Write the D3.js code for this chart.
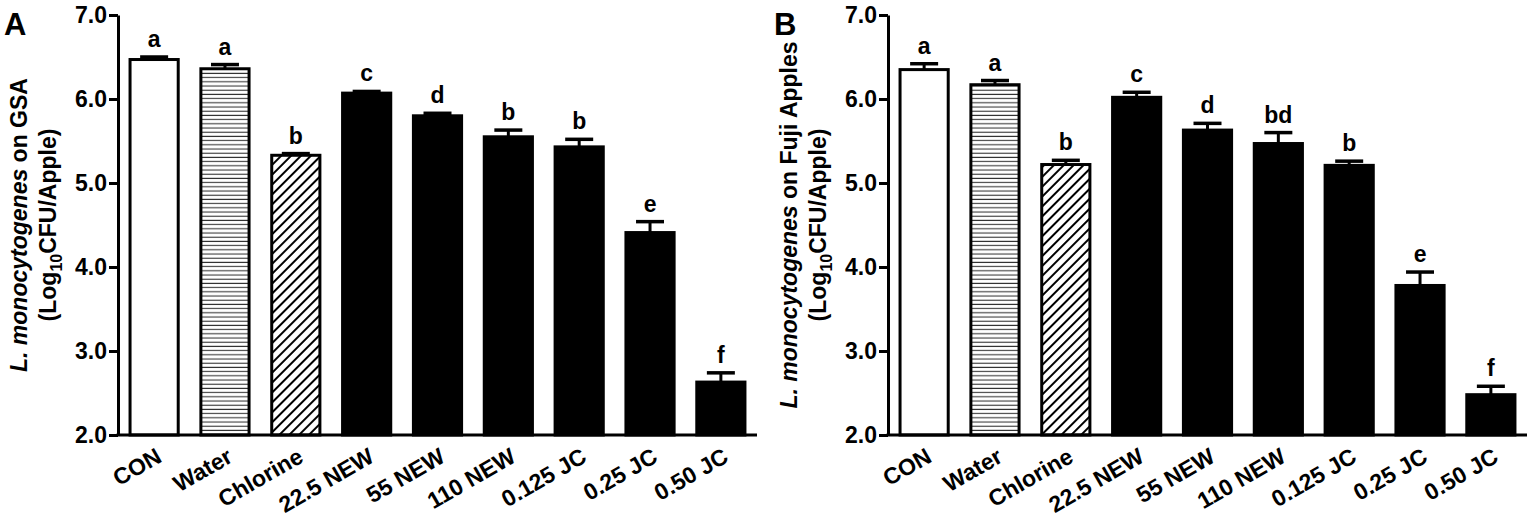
<!DOCTYPE html>
<html>
<head>
<meta charset="utf-8">
<script src="https://cdn.jsdelivr.net/npm/d3@7"></script>
<style>
  body { margin: 0; background: #fff; }
  text { font-family: "Liberation Sans", Arial, sans-serif; font-weight: bold; fill: #000; }
</style>
</head>
<body>
<div id="chart"></div>
<script>
const categories = ['CON', 'Water', 'Chlorine', '22.5 NEW', '55 NEW', '110 NEW', '0.125 JC', '0.25 JC', '0.50 JC']

const gsaMeans = [6.47, 6.36, 5.33, 6.07, 5.80, 5.55, 5.43, 4.41, 2.63]
const gsaErrors = [0.03, 0.05, 0.02, 0.02, 0.03, 0.08, 0.09, 0.13, 0.11]
const gsaLetters = ['a', 'a', 'b', 'c', 'd', 'b', 'b', 'e', 'f']

const fujiMeans = [6.35, 6.17, 5.22, 6.02, 5.63, 5.47, 5.21, 3.78, 2.48]
const fujiErrors = [0.07, 0.05, 0.05, 0.06, 0.08, 0.13, 0.05, 0.16, 0.10]
const fujiLetters = ['a', 'a', 'b', 'c', 'd', 'bd', 'b', 'e', 'f']

const yTicks = [2, 3, 4, 5, 6, 7]

let width = 1534
let height = 517

let svg = d3.select('#chart')
  .append('svg')
    .attr('width', width)
    .attr('height', height)

// fill patterns for water and chlorine bars
let defs = svg.append('defs')

defs.append('pattern')
    .attr('id', 'hlines')
    .attr('patternUnits', 'userSpaceOnUse')
    .attr('width', 10)
    .attr('height', 4.2)
  .append('line')
    .attr('x1', 0).attr('x2', 10)
    .attr('y1', 2).attr('y2', 2)
    .attr('stroke', '#333')
    .attr('stroke-width', 1.1)

defs.append('pattern')
    .attr('id', 'diag')
    .attr('patternUnits', 'userSpaceOnUse')
    .attr('width', 7)
    .attr('height', 10)
    .attr('patternTransform', 'rotate(45)')
  .append('line')
    .attr('x1', 1).attr('x2', 1)
    .attr('y1', 0).attr('y2', 10)
    .attr('stroke', '#000')
    .attr('stroke-width', 2)

let barFill = (category, index) => {
  if (index === 0) return '#fff'
  if (index === 1) return 'url(#hlines)'
  if (index === 2) return 'url(#diag)'
  return '#000'
}

let drawPanel = (left, means, errors, letters, panelLetter, titleEnd) => {
  let axisX = left
  let axisEnd = left + 639

  let xScale = d3.scaleBand()
    .domain(categories)
    .range([axisX, axisEnd])
    .paddingInner(0.32)
    .paddingOuter(0.17)

  let yScale = d3.scaleLinear()
    .domain([2, 7])
    .range([435, 15])

  let g = svg.append('g')

  let rows = categories.map((c, i) => ({ cat: c, mean: means[i], err: errors[i], letter: letters[i], i: i }))
  let mid = d => xScale(d.cat) + xScale.bandwidth() / 2

  // bars
  g.selectAll('rect.bar')
    .data(rows)
    .enter()
    .append('rect')
      .attr('class', 'bar')
      .attr('x', d => xScale(d.cat))
      .attr('y', d => yScale(d.mean))
      .attr('width', xScale.bandwidth())
      .attr('height', d => yScale(2) - yScale(d.mean))
      .attr('fill', d => barFill(d.cat, d.i))
      .attr('stroke', '#000')
      .attr('stroke-width', 3)

  // error bars (upper only)
  g.selectAll('line.err')
    .data(rows)
    .enter()
    .append('line')
      .attr('x1', mid)
      .attr('x2', mid)
      .attr('y1', d => yScale(d.mean))
      .attr('y2', d => yScale(d.mean + d.err))
      .attr('stroke', '#000')
      .attr('stroke-width', 3)

  g.selectAll('line.cap')
    .data(rows)
    .enter()
    .append('line')
      .attr('x1', d => mid(d) - 14)
      .attr('x2', d => mid(d) + 14)
      .attr('y1', d => yScale(d.mean + d.err))
      .attr('y2', d => yScale(d.mean + d.err))
      .attr('stroke', '#000')
      .attr('stroke-width', 3.5)

  // significance letters
  g.selectAll('text.letter')
    .data(rows)
    .enter()
    .append('text')
      .attr('x', mid)
      .attr('y', d => yScale(d.mean + d.err) - 10)
      .attr('text-anchor', 'middle')
      .attr('font-size', 23)
      .text(d => d.letter)

  // y axis
  let yAxis = g.append('g')
    .attr('transform', 'translate(' + axisX + ',0)')
    .call(d3.axisLeft(yScale)
      .tickValues(yTicks)
      .tickFormat(d3.format('.1f'))
      .tickSize(9)
      .tickSizeOuter(0)
      .tickPadding(2))
  yAxis.select('.domain').attr('stroke', '#000').attr('stroke-width', 3)
  yAxis.selectAll('.tick line').attr('stroke', '#000').attr('stroke-width', 3)
  yAxis.selectAll('.tick text')
    .attr('font-size', 23)
    .attr('font-family', '"Liberation Sans", Arial, sans-serif')
    .attr('font-weight', 'bold')
    .attr('fill', '#000')

  // x axis line
  g.append('line')
    .attr('x1', axisX - 1.5)
    .attr('x2', axisEnd)
    .attr('y1', yScale(2))
    .attr('y2', yScale(2))
    .attr('stroke', '#000')
    .attr('stroke-width', 3)

  // x labels
  g.selectAll('text.xlab')
    .data(rows)
    .enter()
    .append('text')
      .attr('transform', d => 'translate(' + (mid(d) + 9) + ',461) rotate(-30)')
      .attr('text-anchor', 'end')
      .attr('font-size', 23)
      .text(d => d.cat)

  // y title
  let midY = (yScale(2) + yScale(7)) / 2
  let t1 = g.append('text')
    .attr('transform', 'translate(' + (axisX - 91) + ',' + midY + ') rotate(-90)')
    .attr('text-anchor', 'middle')
    .attr('font-size', 23)
  t1.append('tspan').attr('font-style', 'italic').text('L. monocytogenes')
  t1.append('tspan').text(' on ' + titleEnd)

  let t2 = g.append('text')
    .attr('transform', 'translate(' + (axisX - 62) + ',' + midY + ') rotate(-90)')
    .attr('text-anchor', 'middle')
    .attr('font-size', 23)
  t2.append('tspan').text('(Log')
  t2.append('tspan').attr('font-size', 16).attr('dy', 6).text('10')
  t2.append('tspan').attr('dy', -6).text('CFU/Apple)')

  // panel letter
  g.append('text')
    .attr('x', left - 114)
    .attr('y', 35)
    .attr('font-size', 31)
    .text(panelLetter)
}

drawPanel(118, gsaMeans, gsaErrors, gsaLetters, 'A', 'GSA')
drawPanel(888, fujiMeans, fujiErrors, fujiLetters, 'B', 'Fuji Apples')
</script>
</body>
</html>
